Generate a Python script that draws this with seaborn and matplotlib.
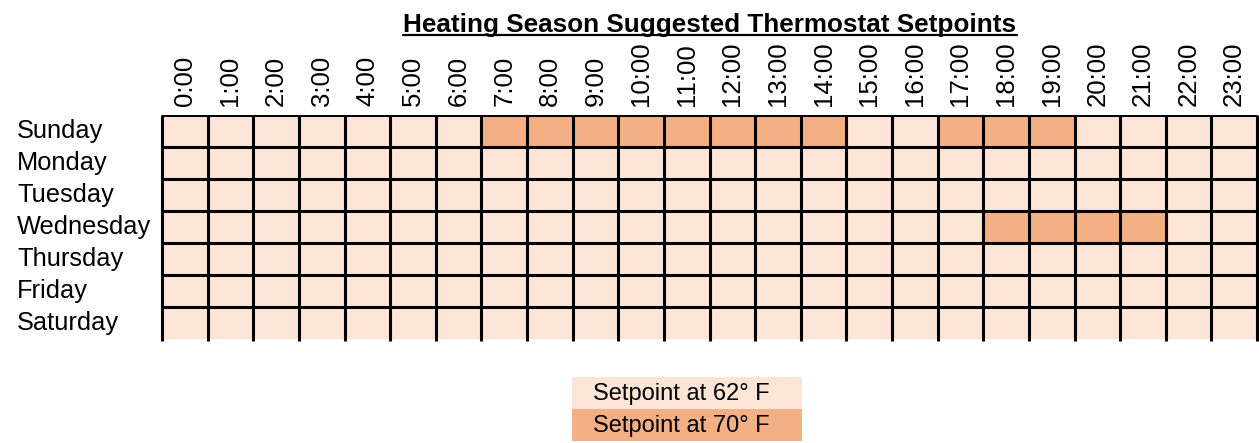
import matplotlib
matplotlib.use("Agg")
import matplotlib.pyplot as plt
import seaborn as sns
import numpy as np
import pandas as pd
from matplotlib.colors import ListedColormap
from matplotlib.patches import Rectangle
from matplotlib.lines import Line2D

sns.set_theme(style="white")
plt.rcParams['font.family'] = ['Liberation Sans', 'DejaVu Sans']
plt.rcParams['text.color'] = 'black'
plt.rcParams['xtick.color'] = 'black'
plt.rcParams['ytick.color'] = 'black'
plt.rcParams['xtick.labelcolor'] = 'black'
plt.rcParams['ytick.labelcolor'] = 'black'

title = "Heating Season Suggested Thermostat Setpoints"
days = ["Sunday", "Monday", "Tuesday", "Wednesday", "Thursday", "Friday", "Saturday"]
hours = [f"{h}:00" for h in range(24)]

sunday    = [62, 62, 62, 62, 62, 62, 62, 70, 70, 70, 70, 70, 70, 70, 70, 62, 62, 70, 70, 70, 62, 62, 62, 62]
monday    = [62] * 24
tuesday   = [62] * 24
wednesday = [62, 62, 62, 62, 62, 62, 62, 62, 62, 62, 62, 62, 62, 62, 62, 62, 62, 62, 70, 70, 70, 70, 62, 62]
thursday  = [62] * 24
friday    = [62] * 24
saturday  = [62] * 24

legend_values = [62, 70]
legend_labels = ["Setpoint at 62\u00b0 F", "Setpoint at 70\u00b0 F"]
colors = ["#FCE4D6", "#F4B084"]

df = pd.DataFrame([sunday, monday, tuesday, wednesday, thursday, friday, saturday],
                  index=days, columns=hours)

W, H = 1259, 443
fig = plt.figure(figsize=(W / 100, H / 100), dpi=100)
ax = fig.add_axes([162 / W, 1 - 339 / H, (1257 - 162) / W, 224 / H])

cmap = ListedColormap(colors)
sns.heatmap(df, ax=ax, cmap=cmap, vmin=58, vmax=74, cbar=False,
            linewidths=0, square=False)

lw = 2.2
for i in range(7):
    ax.axhline(i, color="black", lw=lw, zorder=3)
ax.vlines(np.arange(25), 0, 7.07, color="black", lw=lw, zorder=3, clip_on=False)
ax.set_ylim(7, 0)

ax.xaxis.tick_top()
ax.set_xlabel("")
ax.set_ylabel("")
ax.tick_params(axis="x", length=0, pad=6.5, labelsize=18.5, rotation=90)
ax.tick_params(axis="y", length=0, pad=104.4, labelsize=18.3)
for t in ax.get_xticklabels():
    t.set_va("bottom")
for t in ax.get_yticklabels():
    t.set_ha("left")
    t.set_rotation(0)
for s in ax.spines.values():
    s.set_visible(False)

# Title with underline
tt = fig.text(710 / W, 1 - 32 / H, title, ha="center", va="baseline",
              fontsize=18.8, fontweight="bold")
fig.canvas.draw()
bb = tt.get_window_extent()
uy = 1 - 35 / H
fig.add_artist(Line2D([bb.x0 / W, bb.x1 / W], [uy, uy], color="black", lw=1.6))

# Legend boxes
lx0, lx1 = 572, 802
ly0 = 377
lh = 32
for k, (v, lab) in enumerate(zip(legend_values, legend_labels)):
    y_top = ly0 + k * lh
    fig.add_artist(Rectangle((lx0 / W, 1 - (y_top + lh) / H), (lx1 - lx0) / W, lh / H,
                             transform=fig.transFigure, facecolor=cmap((v - 58) / 16),
                             edgecolor="none"))
    fig.text(lx0 / W + 21 / W, 1 - (y_top + lh / 2 + 1) / H, lab, ha="left", va="center",
             fontsize=17)

fig.savefig("out.png", dpi=100)
